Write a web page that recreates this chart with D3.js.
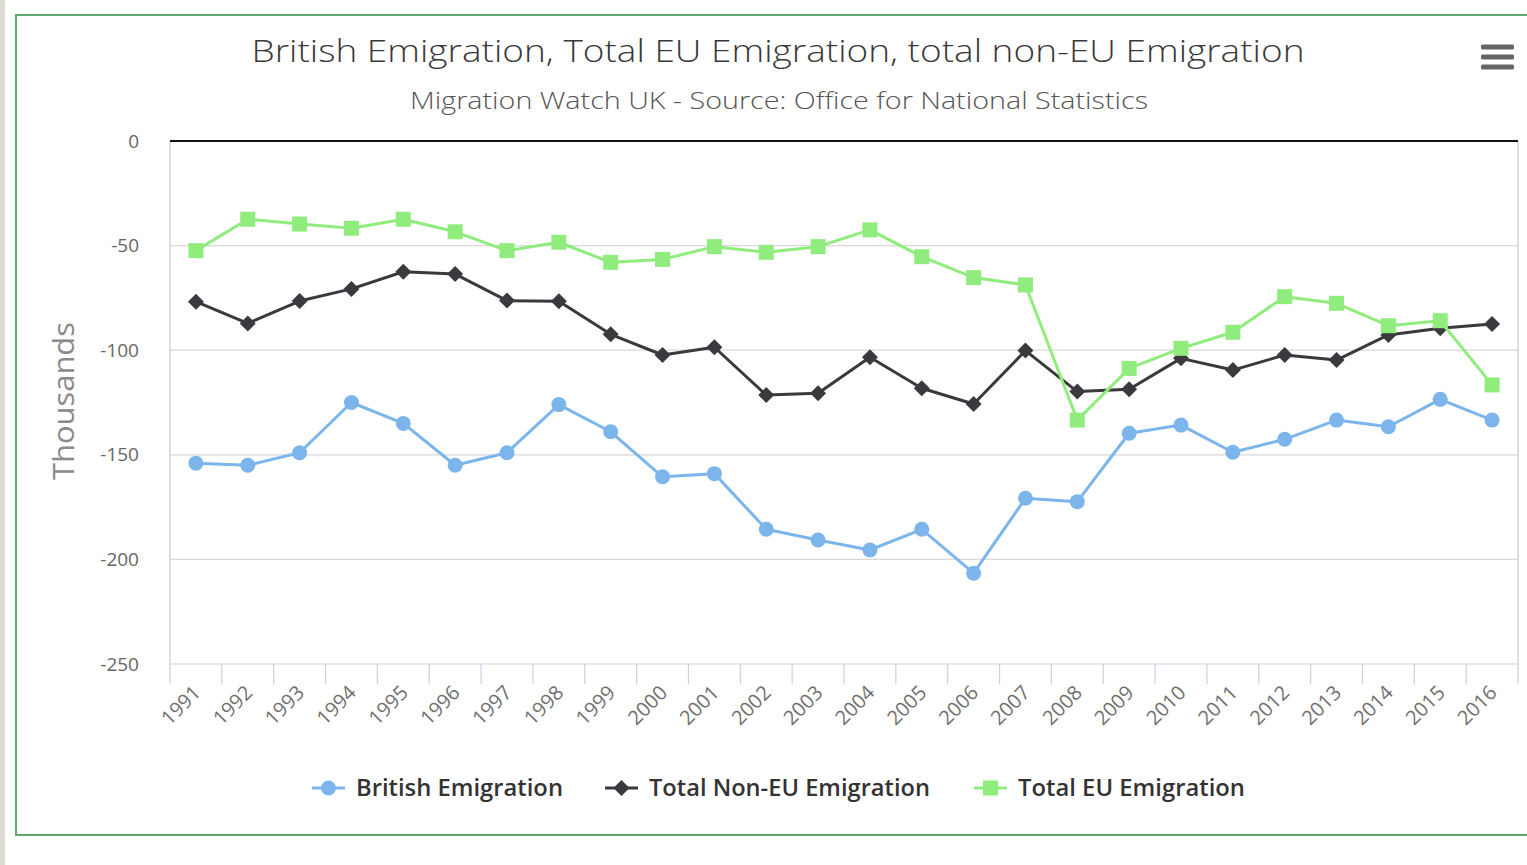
<!DOCTYPE html>
<html>
<head>
<meta charset="utf-8">
<script src="https://cdn.jsdelivr.net/npm/d3@7/dist/d3.min.js"></script>
<style>
  html, body { margin: 0; padding: 0; background: #ffffff; }
  svg { display: block; }
  text { font-family: "Open Sans", "DejaVu Sans", sans-serif; }
</style>
</head>
<body>
<svg id="chart" width="1527" height="865"></svg>
<script>
const years = ["1991","1992","1993","1994","1995","1996","1997","1998","1999","2000","2001","2002","2003","2004","2005","2006","2007","2008","2009","2010","2011","2012","2013","2014","2015","2016"];
const british = [-154,-155,-149,-125,-135,-155,-149,-126,-139,-160.5,-159,-185.6,-190.7,-195.5,-185.6,-206.6,-170.8,-172.4,-139.7,-135.8,-148.8,-142.6,-133.4,-136.6,-123.5,-133.4];
const nonEU = [-76.8,-87.2,-76.5,-70.7,-62.5,-63.6,-76.3,-76.6,-92.4,-102.3,-98.6,-121.4,-120.6,-103.4,-118.2,-125.7,-100.2,-119.8,-118.7,-103.9,-109.5,-102.3,-104.7,-92.7,-89.5,-87.5];
const eu = [-52.4,-37.4,-39.7,-41.7,-37.4,-43.4,-52.4,-48.4,-58,-56.6,-50.5,-53.2,-50.5,-42.5,-55.3,-65.3,-68.8,-133.4,-108.7,-99.1,-91.4,-74.4,-77.6,-88.3,-85.9,-116.6];
const yTicks = [0,-50,-100,-150,-200,-250];
const seriesNames = ["British Emigration","Total Non-EU Emigration","Total EU Emigration"];
const colors = ["#7cb5ec","#3a3a3e","#90ed7d"];
const titleText = "British Emigration, Total EU Emigration, total non-EU Emigration";
const subtitleText = "Migration Watch UK - Source: Office for National Statistics";
const yAxisTitle = "Thousands";

(function(){
const svg = d3.select("#chart");
const pL = 170, pR = 1518, pT = 141, pB = 664;

// page decoration
svg.append("rect").attr("x",0).attr("y",0).attr("width",5).attr("height",865).attr("fill","#dcd9d3");
svg.append("rect").attr("x",16).attr("y",15).attr("width",1530).attr("height",820)
  .attr("fill","#ffffff").attr("stroke","#5fa870").attr("stroke-width",2);

const x = d3.scaleBand().domain(years).range([pL,pR]).padding(0);
const y = d3.scaleLinear().domain([-250,0]).range([pB,pT]);
const cx = d => x(d) + x.bandwidth()/2;

// title & subtitle
svg.append("text").attr("x",778).attr("y",62).attr("text-anchor","middle")
  .attr("font-size",31).attr("font-weight",300).attr("fill","#3a3a3a").attr("textLength",1053).attr("lengthAdjust","spacingAndGlyphs")
  .text(titleText);
svg.append("text").attr("x",779).attr("y",109).attr("text-anchor","middle")
  .attr("font-size",24).attr("font-weight",300).attr("fill","#555555").attr("textLength",738).attr("lengthAdjust","spacingAndGlyphs")
  .text(subtitleText);

// hamburger menu
[47,57,67].forEach(yy => svg.append("rect").attr("x",1481).attr("y",yy-2.5).attr("width",33).attr("height",5).attr("rx",1.5).attr("fill","#666666"));

// gridlines
const grid = svg.append("g");
yTicks.filter(t => t !== 0 && t !== -250).forEach(t => {
  grid.append("line").attr("x1",pL).attr("x2",pR).attr("y1",y(t)).attr("y2",y(t))
    .attr("stroke","#d8d8d8").attr("stroke-width",1.2);
});
// plot side borders
svg.append("line").attr("x1",pL).attr("x2",pL).attr("y1",pT).attr("y2",pB).attr("stroke","#c8c8c8").attr("stroke-width",1.2);
svg.append("line").attr("x1",pR).attr("x2",pR).attr("y1",pT).attr("y2",pB).attr("stroke","#c8c8c8").attr("stroke-width",1.2);

// y axis labels
const yAxis = d3.axisLeft(y).tickValues(yTicks).tickSize(0).tickPadding(0).tickFormat(d => String(d));
const yg = svg.append("g").attr("transform",`translate(${139},0)`).call(yAxis);
yg.select(".domain").remove();
yg.selectAll("text").attr("font-size",19).attr("fill","#666666").attr("font-family","'Open Sans', sans-serif");

svg.append("text").attr("transform",`translate(74,${401}) rotate(-90)`).attr("text-anchor","middle")
  .attr("font-size",29).attr("fill","#8a8a8a").attr("textLength",158).attr("lengthAdjust","spacingAndGlyphs").text(yAxisTitle);

// zero line (black)
svg.append("line").attr("x1",pL).attr("x2",pR).attr("y1",y(0)).attr("y2",y(0)).attr("stroke","#111111").attr("stroke-width",2.2);

// x axis line and ticks at category boundaries
svg.append("line").attr("x1",pL).attr("x2",pR).attr("y1",y(-250)).attr("y2",y(-250)).attr("stroke","#c8d2e4").attr("stroke-width",1.2);
const bounds = years.map(d => x(d)).concat([pR]);
svg.append("g").selectAll("line").data(bounds).join("line")
  .attr("x1",d=>d).attr("x2",d=>d).attr("y1",pB).attr("y2",pB+20)
  .attr("stroke","#c8d2e4").attr("stroke-width",1.2);
svg.append("g").selectAll("text").data(years).join("text")
  .attr("transform",d=>`translate(${cx(d)+6},${694}) rotate(-45)`)
  .attr("text-anchor","end").attr("font-size",20).attr("fill","#707070").text(d=>d);

// series
const data = [british, nonEU, eu];
const line = d3.line().x((d,i)=>cx(years[i])).y(d=>y(d));
const diamondPath = "M0,-8L8,0L0,8L-8,0Z";
data.forEach((vals,si) => {
  const g = svg.append("g");
  g.append("path").datum(vals).attr("d",line).attr("fill","none").attr("stroke",colors[si]).attr("stroke-width",3).attr("stroke-linejoin","round");
  vals.forEach((v,i) => {
    const px = cx(years[i]), py = y(v);
    if (si === 0) g.append("circle").attr("cx",px).attr("cy",py).attr("r",7.5).attr("fill",colors[si]);
    else if (si === 1) g.append("path").attr("d",diamondPath).attr("transform",`translate(${px},${py})`).attr("fill",colors[si]);
    else g.append("rect").attr("x",px-7.5).attr("y",py-7.5).attr("width",15).attr("height",15).attr("fill",colors[si]);
  });
});

// legend
const legendX = [312, 605, 974];
const legendW = [207, 281, 227];
const leg = svg.append("g");
seriesNames.forEach((name,i) => {
  const lx = legendX[i], ly = 788;
  leg.append("line").attr("x1",lx).attr("x2",lx+33).attr("y1",ly).attr("y2",ly).attr("stroke",colors[i]).attr("stroke-width",3);
  const mx = lx + 16.5;
  if (i === 0) leg.append("circle").attr("cx",mx).attr("cy",ly).attr("r",7.5).attr("fill",colors[i]);
  else if (i === 1) leg.append("path").attr("d",diamondPath).attr("transform",`translate(${mx},${ly})`).attr("fill",colors[i]);
  else leg.append("rect").attr("x",mx-7.5).attr("y",ly-7.5).attr("width",15).attr("height",15).attr("fill",colors[i]);
  leg.append("text").attr("x",lx+44).attr("y",ly+8).attr("font-size",23).attr("font-weight",600).attr("fill","#333333")
    .attr("textLength",legendW[i]).attr("lengthAdjust","spacingAndGlyphs").text(name);
});
})();
</script>
</body>
</html>
